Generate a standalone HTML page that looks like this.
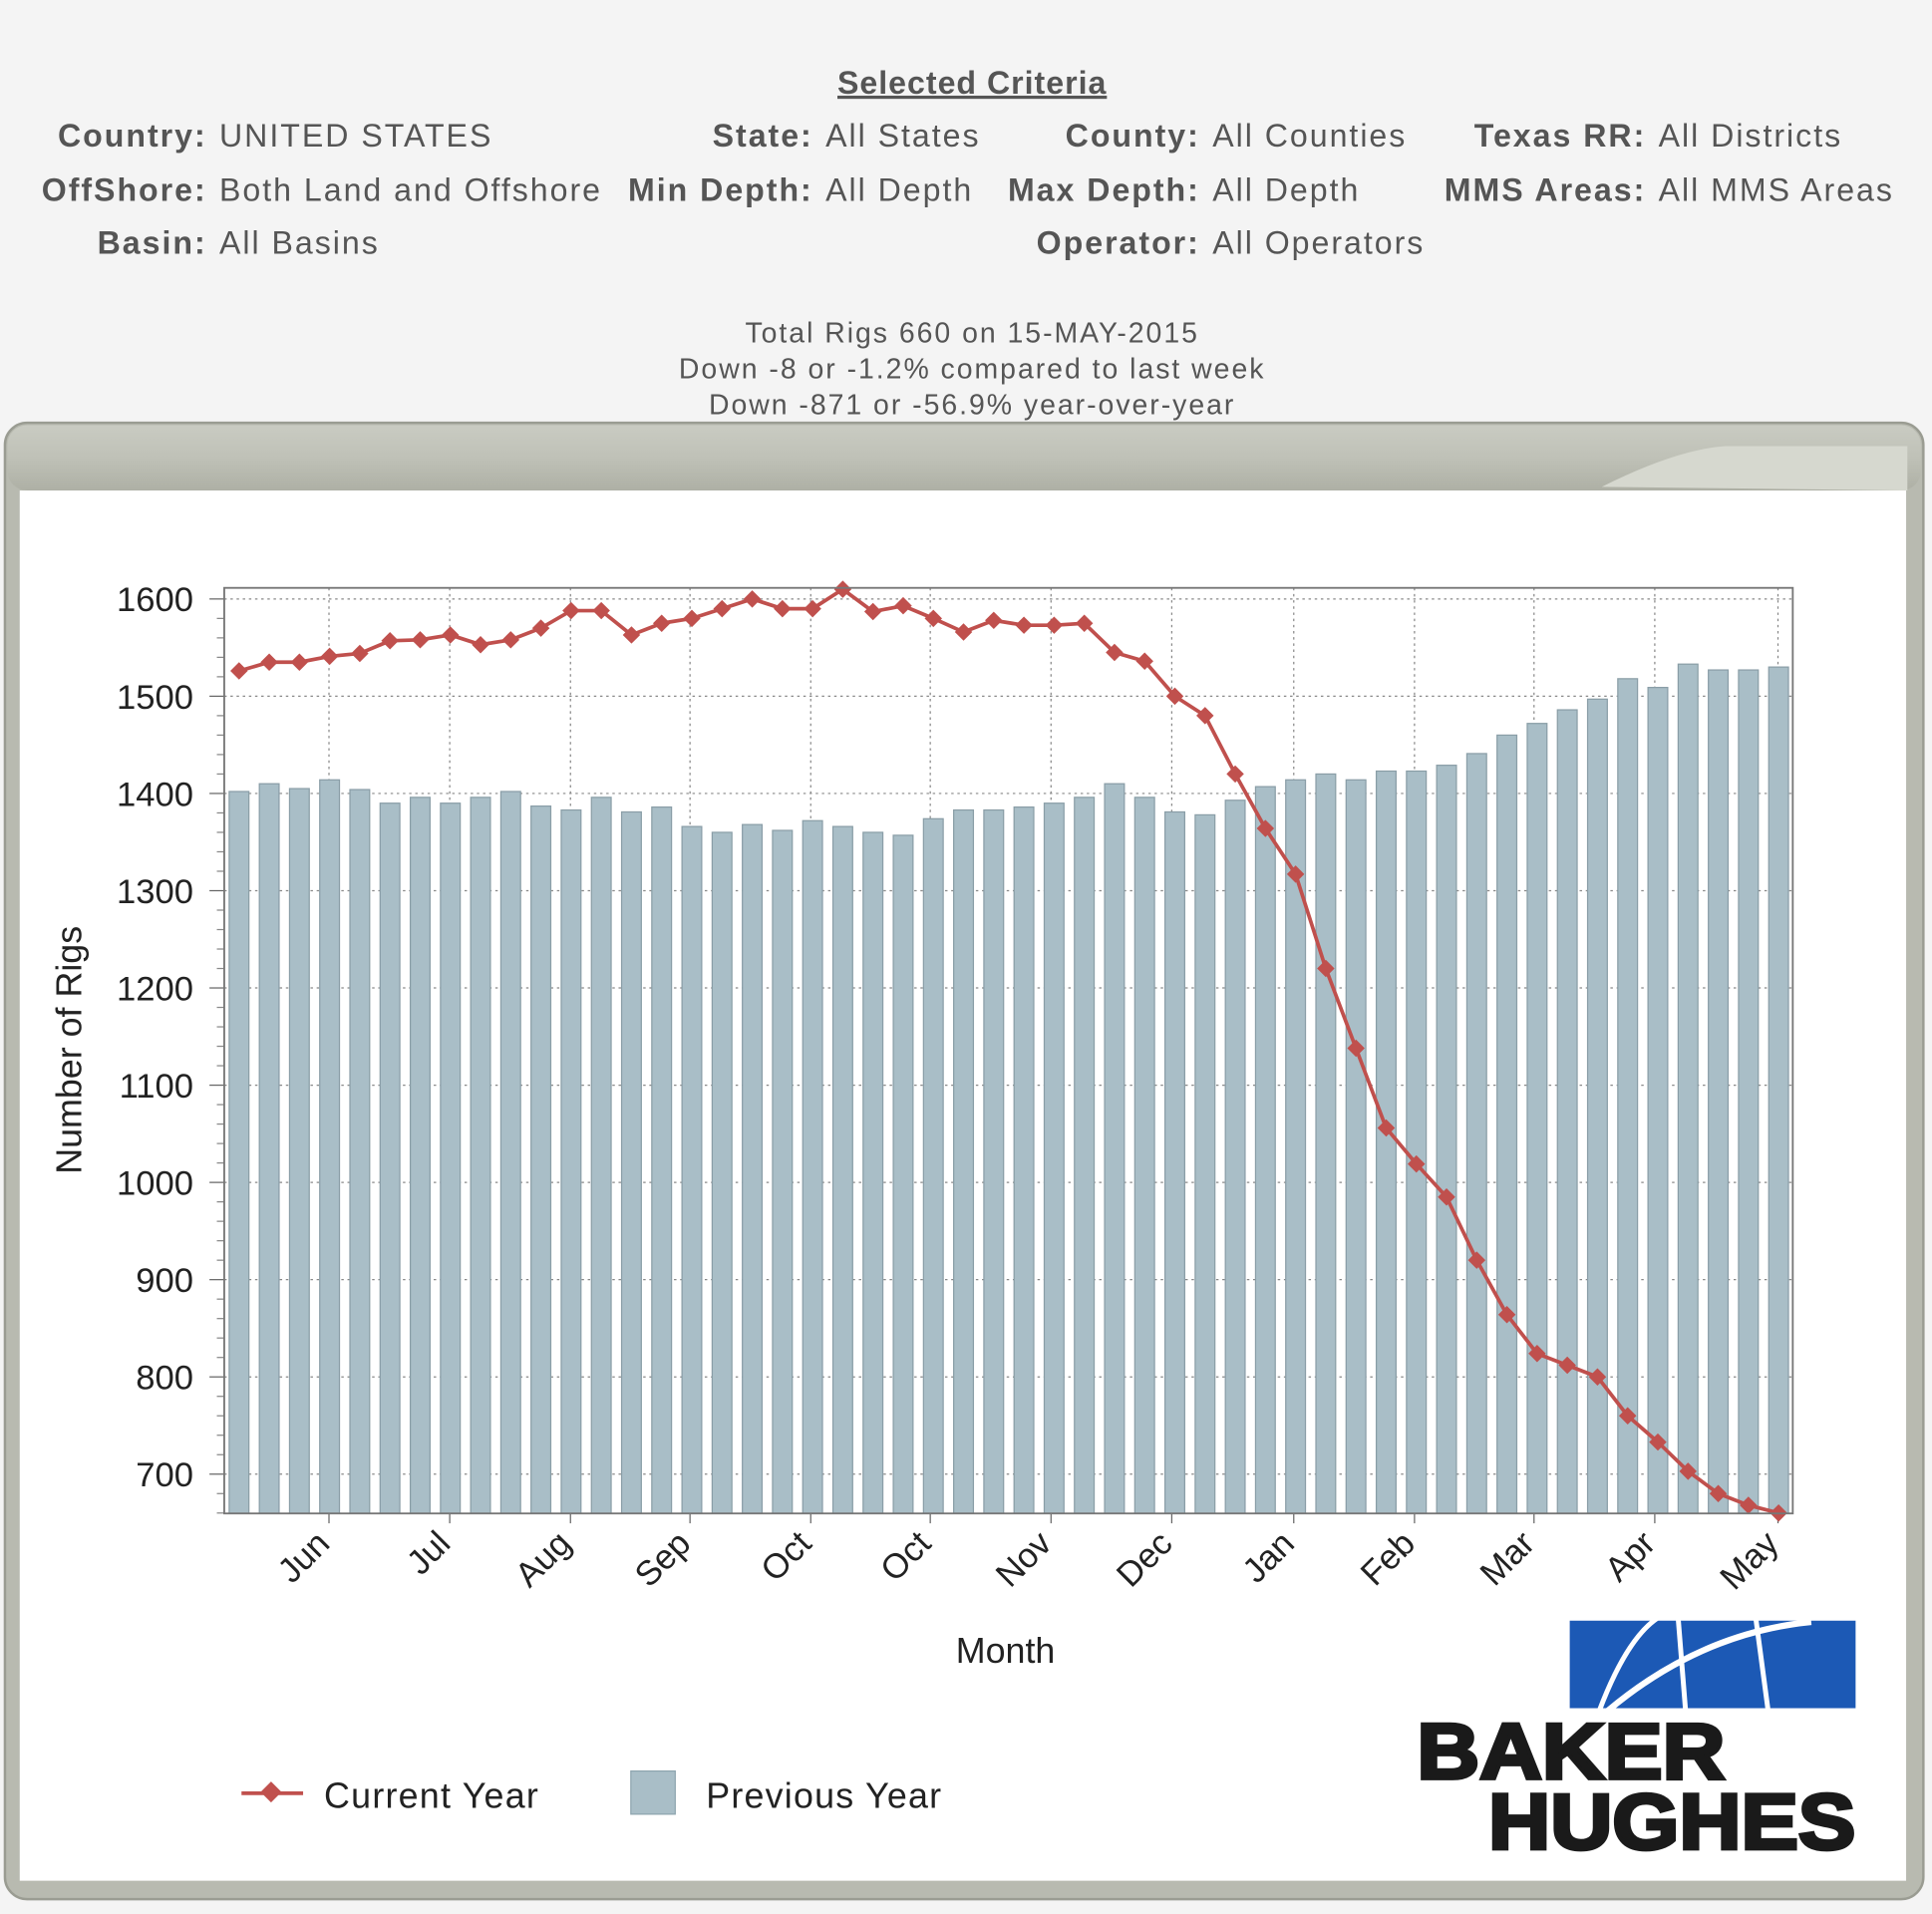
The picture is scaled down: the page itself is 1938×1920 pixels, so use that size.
<!DOCTYPE html>
<html><head><meta charset="utf-8">
<style>
html,body{margin:0;padding:0;background:#f4f4f4;}
svg{display:block;}
text{font-family:"Liberation Sans",sans-serif;}
</style></head>
<body>
<svg id="s" width="1938" height="1920" viewBox="0 0 1568 1553" preserveAspectRatio="none" xmlns="http://www.w3.org/2000/svg">
<defs>
<linearGradient id="hdr" x1="0" y1="0" x2="0" y2="1">
<stop offset="0" stop-color="#c9cbc2"/><stop offset="0.5" stop-color="#bfc1b7"/><stop offset="1" stop-color="#aeb0a5"/>
</linearGradient>
</defs>
<rect width="1568" height="1553" fill="#f4f4f4"/>
<g fill="#555" font-size="26" letter-spacing="1.6">
<text x="789" y="76" text-anchor="middle" font-weight="bold" text-decoration="underline" letter-spacing="0.8">Selected Criteria</text>
<text x="168" y="119" text-anchor="end" font-weight="bold">Country:</text><text x="178" y="119">UNITED STATES</text>
<text x="660" y="119" text-anchor="end" font-weight="bold">State:</text><text x="670" y="119">All States</text>
<text x="974" y="119" text-anchor="end" font-weight="bold">County:</text><text x="984" y="119">All Counties</text>
<text x="1336" y="119" text-anchor="end" font-weight="bold">Texas RR:</text><text x="1346" y="119">All Districts</text>
<text x="168" y="163" text-anchor="end" font-weight="bold">OffShore:</text><text x="178" y="163">Both Land and Offshore</text>
<text x="660" y="163" text-anchor="end" font-weight="bold">Min Depth:</text><text x="670" y="163">All Depth</text>
<text x="974" y="163" text-anchor="end" font-weight="bold">Max Depth:</text><text x="984" y="163">All Depth</text>
<text x="1336" y="163" text-anchor="end" font-weight="bold">MMS Areas:</text><text x="1346" y="163">All MMS Areas</text>
<text x="168" y="206" text-anchor="end" font-weight="bold">Basin:</text><text x="178" y="206">All Basins</text>
<text x="974" y="206" text-anchor="end" font-weight="bold">Operator:</text><text x="984" y="206">All Operators</text>
</g>
<g fill="#555" font-size="23" text-anchor="middle" letter-spacing="1.6">
<text x="789" y="278">Total Rigs 660 on 15-MAY-2015</text>
<text x="789" y="307">Down -8 or -1.2% compared to last week</text>
<text x="789" y="336">Down -871 or -56.9% year-over-year</text>
</g>
<!-- frame -->
<rect x="4" y="343" width="1557" height="1198" rx="18" fill="#b8bab0" stroke="#9a9c92" stroke-width="2"/>
<rect x="6" y="345" width="1553" height="53" rx="16" fill="url(#hdr)"/>
<path d="M1300 395 Q1360 365 1400 362 L1548 362 L1548 398 Z" fill="#d6d8cf"/>
<rect x="16" y="398" width="1531" height="1128" fill="#ffffff"/>
<g id="plot"></g>
<!-- logo -->
<rect x="1274" y="1315" width="232" height="71" fill="#1c59b5"/>
<path d="M1298 1388 Q1320 1330 1345 1313" stroke="#fff" stroke-width="4" fill="none"/>
<path d="M1305 1388 Q1380 1325 1470 1316" stroke="#fff" stroke-width="5" fill="none"/>
<path d="M1362 1313 L1368 1388 M1425 1313 L1435 1388" stroke="#fff" stroke-width="4" fill="none"/>
<text x="1150" y="1443" font-size="64" font-weight="900" fill="#1a1a1a" stroke="#1a1a1a" stroke-width="3" textLength="250" lengthAdjust="spacingAndGlyphs">BAKER</text>
<text x="1208" y="1500" font-size="64" font-weight="900" fill="#1a1a1a" stroke="#1a1a1a" stroke-width="3" textLength="298" lengthAdjust="spacingAndGlyphs">HUGHES</text>
<!-- legend -->
<line x1="196" y1="1455" x2="246" y2="1455" stroke="#c0504d" stroke-width="3"/>
<rect x="214" y="1448" width="12" height="12" fill="#c0504d" transform="rotate(45 220 1454)"/>
<text x="263" y="1467" font-size="29" fill="#222" letter-spacing="1">Current Year</text>
<rect x="512" y="1437" width="36" height="35" fill="#a9bec7" stroke="#8ea5af"/>
<text x="573" y="1467" font-size="29" fill="#222" letter-spacing="1">Previous Year</text>
<text x="816" y="1349" font-size="29" fill="#222" text-anchor="middle">Month</text>
<text x="0" y="0" font-size="29" fill="#222" text-anchor="middle" transform="translate(66 852) rotate(-90)">Number of Rigs</text>
</svg>
<script>
var ns="http://www.w3.org/2000/svg",g=document.getElementById("plot");
function el(t,a,txt){var e=document.createElementNS(ns,t);for(var k in a)e.setAttribute(k,a[k]);if(txt)e.textContent=txt;g.appendChild(e);return e;}
function Y(v){return 486+(1600-v)*0.789;}
var L=182,R=1455,T=477,B=1228;
el("rect",{x:L,y:T,width:R-L,height:B-T,fill:"#fff"});
for(var v=700;v<=1600;v+=100){el("line",{x1:L,x2:R,y1:Y(v),y2:Y(v),stroke:"#888","stroke-dasharray":"2,3"});
el("line",{x1:170,x2:L,y1:Y(v),y2:Y(v),stroke:"#666"});
el("text",{x:157,y:Y(v)+10,"font-size":28,fill:"#222","text-anchor":"end"},""+v);}
for(var v=660;v<=1610;v+=20){if(v%100)el("line",{x1:176,x2:L,y1:Y(v),y2:Y(v),stroke:"#888"});}
var mx=[267,365,463,560,658,755,853,951,1050,1148,1245,1343,1443];
var ml=["Jun","Jul","Aug","Sep","Oct","Oct","Nov","Dec","Jan","Feb","Mar","Apr","May"];
for(var i=0;i<mx.length;i++){el("line",{x1:mx[i],x2:mx[i],y1:T,y2:B,stroke:"#888","stroke-dasharray":"2,3"});
el("line",{x1:mx[i],x2:mx[i],y1:B,y2:B+8,stroke:"#666"});
el("text",{x:0,y:0,"font-size":28,fill:"#222","text-anchor":"end",transform:"translate("+(mx[i]+2)+" "+(B+26)+") rotate(-45)"},ml[i]);}
var bars=[1402,1410,1405,1414,1404,1390,1396,1390,1396,1402,1387,1383,1396,1381,1386,1366,1360,1368,1362,1372,1366,1360,1357,1374,1383,1383,1386,1390,1396,1410,1396,1381,1378,1393,1407,1414,1420,1414,1423,1423,1429,1441,1460,1472,1486,1497,1518,1509,1533,1527,1527,1530];
var cur=[1526,1535,1535,1541,1544,1557,1558,1563,1553,1558,1570,1588,1588,1563,1575,1580,1590,1600,1590,1590,1610,1587,1593,1580,1566,1578,1573,1573,1575,1545,1536,1500,1480,1420,1364,1317,1220,1138,1056,1019,985,920,864,824,812,800,760,733,703,680,668,660];
function X(i){return 194+i*24.5;}
for(var i=0;i<bars.length;i++){el("rect",{x:X(i)-8,y:Y(bars[i]),width:16,height:B-Y(bars[i]),fill:"#a9bec7",stroke:"#8a9ea7","stroke-width":1});}
var p="";for(var i=0;i<cur.length;i++)p+=(i?"L":"M")+X(i)+" "+Y(cur[i]);
el("path",{d:p,stroke:"#c0504d","stroke-width":3,fill:"none"});
for(var i=0;i<cur.length;i++){var x=X(i),y=Y(cur[i]);el("rect",{x:x-5,y:y-5,width:10,height:10,fill:"#c0504d",transform:"rotate(45 "+x+" "+y+")"});}
el("rect",{x:L,y:T,width:R-L,height:B-T,fill:"none",stroke:"#777","stroke-width":1.5});
</script>
</body></html>
